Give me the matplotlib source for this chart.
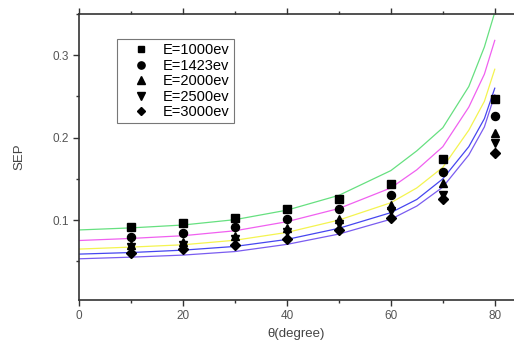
import matplotlib.pyplot as plt
from matplotlib.ticker import MultipleLocator

# -------------------------------------------------------
# Data
# -------------------------------------------------------
theta = [10, 20, 30, 40, 50, 60, 70, 80]

sep_1000 = [0.0915, 0.0964, 0.103, 0.113, 0.126, 0.144, 0.174, 0.247]
sep_1423 = [0.0797, 0.0846, 0.0915, 0.1007, 0.1137, 0.130, 0.158, 0.226]
sep_2000 = [0.070, 0.0728, 0.0806, 0.0903, 0.1016, 0.118, 0.145, 0.206]
sep_2500 = [0.0672, 0.070, 0.077, 0.085, 0.0955, 0.111, 0.131, 0.193]
sep_3000 = [0.0606, 0.0647, 0.070, 0.0773, 0.0882, 0.102, 0.1255, 0.181]

# fitted curves
fit_theta = [0, 10, 20, 30, 40, 50, 60, 65, 70, 75, 78, 80]
fit_green = [0.088, 0.0905, 0.094, 0.1005, 0.112, 0.130, 0.160, 0.184, 0.212, 0.262, 0.310, 0.352]
fit_magenta = [0.0752, 0.0777, 0.081, 0.087, 0.098, 0.114, 0.139, 0.161, 0.189, 0.237, 0.277, 0.318]
fit_yellow = [0.0648, 0.0672, 0.070, 0.0755, 0.085, 0.100, 0.121, 0.139, 0.164, 0.209, 0.244, 0.283]
fit_blue = [0.0587, 0.0606, 0.0635, 0.068, 0.0765, 0.090, 0.109, 0.125, 0.150, 0.189, 0.223, 0.260]
fit_violet = [0.053, 0.055, 0.0575, 0.0618, 0.0705, 0.083, 0.101, 0.117, 0.140, 0.179, 0.213, 0.252]

labels = ["E=1000ev", "E=1423ev", "E=2000ev", "E=2500ev", "E=3000ev"]

# -------------------------------------------------------
# Plot
# -------------------------------------------------------
plt.rcParams["font.family"] = ["Liberation Sans", "DejaVu Sans"]

fig = plt.figure(figsize=(5.14, 3.41), dpi=100)
ax = fig.add_axes([0.1537, 0.1202, 0.8463, 0.8387])

line_colors = ["#66e080", "#f060f0", "#f4f450", "#4646f0", "#7a5cf0"]
fits = [fit_green, fit_magenta, fit_yellow, fit_blue, fit_violet]
for fit, c in zip(fits, line_colors):
    ax.plot(fit_theta, fit, color=c, lw=0.9)

markers = ["s", "o", "^", "v", "D"]
sizes = [5.2, 5.8, 5.8, 5.8, 4.8]
series = [sep_1000, sep_1423, sep_2000, sep_2500, sep_3000]
for s, m, ms, lab in zip(series, markers, sizes, labels):
    ax.plot(theta, s, ls="none", marker=m, ms=ms, color="black", label=lab, zorder=3)

ax.set_xlim(0, 83.7)
ax.set_ylim(0.003, 0.35)

ax.xaxis.set_major_locator(MultipleLocator(20))
ax.xaxis.set_minor_locator(MultipleLocator(10))
ax.yaxis.set_major_locator(MultipleLocator(0.1))
ax.yaxis.set_minor_locator(MultipleLocator(0.05))
ax.set_yticks([0.1, 0.2, 0.3])
ax.set_xticks([0, 20, 40, 60, 80])

ax.tick_params(which="both", direction="out", colors="#333333", labelcolor="#555555",
               labelsize=8.5, width=1)
ax.tick_params(which="major", length=4)
ax.tick_params(which="minor", length=2.5)
ax.tick_params(which="both", top=True, right=False)

for side in ["left", "bottom", "top"]:
    ax.spines[side].set_linewidth(1.2)
    ax.spines[side].set_color("#333333")
ax.spines["right"].set_visible(False)

ax.set_xlabel("θ(degree)", fontsize=9.5, color="#444444", labelpad=4)
ax.set_ylabel("SEP", fontsize=9.5, color="#444444", labelpad=19)

leg = ax.legend(loc="upper left", bbox_to_anchor=(0.087, 0.913), fontsize=10.5,
                frameon=True, fancybox=False, handletextpad=0.15, labelspacing=0.1,
                borderpad=0.3, handlelength=2.7, borderaxespad=0, markerscale=0.9)
leg.get_frame().set_edgecolor("#555555")
leg.get_frame().set_linewidth(0.8)

fig.savefig("out.png", dpi=100)
